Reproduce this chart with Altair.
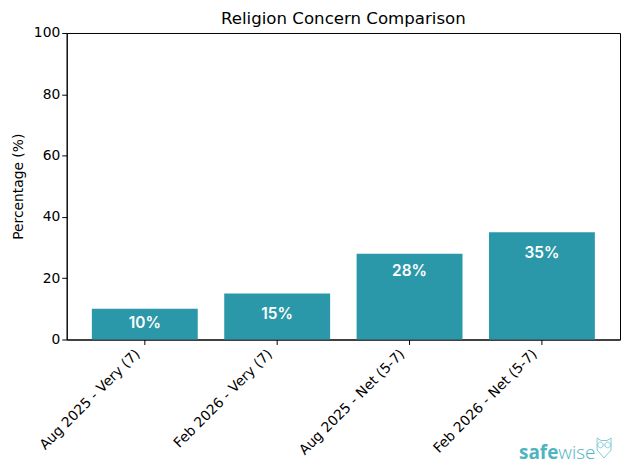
import altair as alt
import pandas as pd

cats = ["Aug 2025 - Very (7)", "Feb 2026 - Very (7)", "Aug 2025 - Net (5-7)", "Feb 2026 - Net (5-7)"]
vals = [10, 15, 28, 35]
label_at = [5.5, 8.4, 22.4, 28.2]
labels = ["10%", "15%", "28%", "35%"]
yticks = [0, 20, 40, 60, 80, 100]
FONT = "DejaVu Sans"
df = pd.DataFrame({"c": cats, "v": vals, "l": labels, "a": label_at})
OWL = ("M-7,-10 L-3,-7.5 L3,-7.5 L7,-10 L7,2 L0,10 L-7,2 Z "
       "M-0.8,-3 A2.8,2.8 0 1 1 -6.4,-3 A2.8,2.8 0 1 1 -0.8,-3 Z "
       "M6.4,-3 A2.8,2.8 0 1 1 0.8,-3 A2.8,2.8 0 1 1 6.4,-3 Z")

x = alt.X("c:N", sort=cats, scale=alt.Scale(paddingInner=0.2, paddingOuter=0.19),
          axis=alt.Axis(title=None, labelAngle=-45, labelAlign="right", labelBaseline="bottom",
                        labelFontSize=13.9, labelFont=FONT, labelColor="black", tickColor="black",
                        tickSize=5, domainColor="black", labelPadding=12, labelOffset=-2))
y = alt.Y("v:Q", scale=alt.Scale(domain=[0, 100], nice=False),
          axis=alt.Axis(title="Percentage (%)", titleFontSize=13.9, titleFont=FONT, titleFontWeight="normal",
                        titleColor="black", values=yticks, grid=False, labelFontSize=13.9, labelFont=FONT,
                        labelColor="black", tickColor="black", tickSize=5, domainColor="black", titlePadding=8))
bars = alt.Chart(df).mark_bar(color="#2b98a9").encode(x=x, y=y)
text = alt.Chart(df).mark_text(color="white", fontWeight=600, fontSize=15.5, font="Inter", baseline="middle").encode(
    x=alt.X("c:N", sort=cats), y="a:Q", text="l:N")
logo1 = alt.Chart(pd.DataFrame({"t": ["safe"]})).mark_text(color="#4fb3c1", fontSize=19, fontWeight="bold", font="Open Sans", align="right").encode(
    x=alt.value(494), y=alt.value(422), text="t:N")
logo2 = alt.Chart(pd.DataFrame({"t": ["wise"]})).mark_text(color="#4fb3c1", fontSize=19, fontWeight=300, font="Open Sans", align="left").encode(
    x=alt.value(494), y=alt.value(422), text="t:N")
owl = alt.Chart(pd.DataFrame({"t": ["owl"]})).mark_point(shape=OWL, size=4, filled=False, color="#4fb3c1", strokeWidth=1).encode(
    x=alt.value(540), y=alt.value(417))

chart = (bars + text + logo1 + logo2 + owl).properties(
    width=556, height=308,
    padding={"left": 3, "right": 2, "top": 2, "bottom": 4},
    title=alt.TitleParams("Religion Concern Comparison", fontSize=16.7, font=FONT, fontWeight="normal", color="black", offset=0, dy=2),
).configure_view(stroke="black", strokeWidth=1)
chart.save("out.html", embed_options={"renderer": "svg", "actions": False})
